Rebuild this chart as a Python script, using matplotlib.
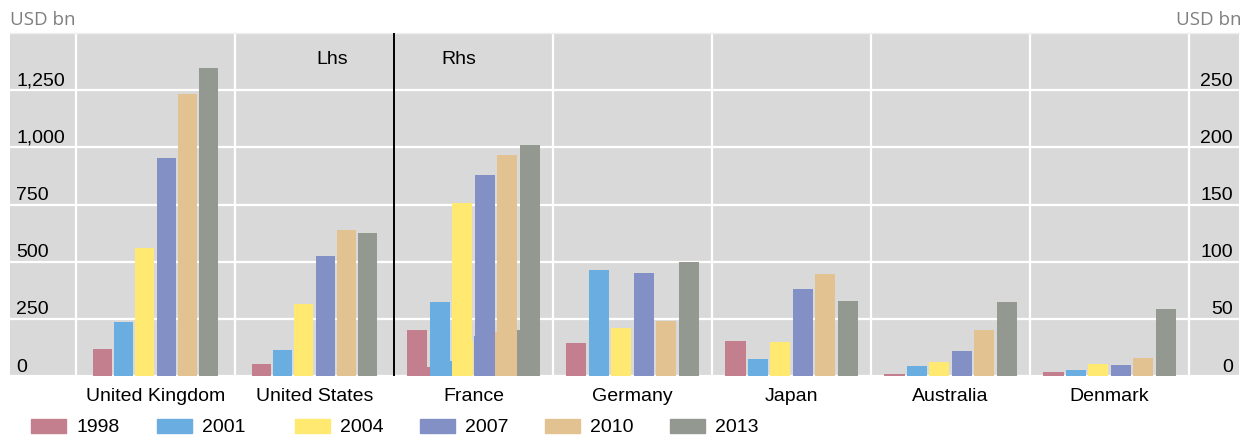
import matplotlib
matplotlib.use("Agg")
import matplotlib.pyplot as plt
import matplotlib.transforms as mtransforms
from matplotlib.patches import Rectangle
import numpy as np

# ---------------- data ----------------
countries = ["United Kingdom", "United States", "France", "Germany",
             "Japan", "Australia", "Denmark"]
years = ["1998", "2001", "2004", "2007", "2010", "2013"]
n_lhs = 2  # first two countries on the left-hand scale

v1998 = [118, 52, 40, 29, 31, 2, 3.5]
v2001 = [236, 113, 65, 93, 15, 9, 5]
v2004 = [558, 314, 151, 42, 30, 12, 10.5]
v2007 = [955, 523, 176, 90, 76, 22, 9.5]
v2010 = [1235, 637, 193, 48, 89, 40, 16]
v2013 = [1348, 624, 202, 100, 66, 65, 58.5]
series = [v1998, v2001, v2004, v2007, v2010, v2013]

lhs_ticks = [0, 250, 500, 750, 1000, 1250]
lhs_labels = ["0", "250", "500", "750", "1,000", "1,250"]
rhs_ticks = [0, 50, 100, 150, 200, 250]
rhs_labels = ["0", "50", "100", "150", "200", "250"]

colors = ["#C47F8E", "#6AADE0", "#FFE970", "#8390C6", "#E2C291", "#939890"]

# ---------------- figure ----------------
W, H = 1257, 442
fig = plt.figure(figsize=(W / 100, H / 100), dpi=100)
plt.rcParams['font.family'] = ['Liberation Sans', 'DejaVu Sans']

def fx(x):
    return x / W

def fy(y):
    return 1 - y / H

left, right, top, bottom = 10, 1239, 33, 376
ax = fig.add_axes([fx(left), fy(bottom), (right - left) / W, (bottom - top) / H])
ax.set_facecolor("#D9D9D9")
ax.set_xlim(-0.915, 6.814)
ax.set_ylim(0, 1500)
ax2 = ax.twinx()
ax2.set_ylim(0, 300)

for a in (ax, ax2):
    for s in a.spines.values():
        s.set_visible(False)
    a.tick_params(left=False, right=False, labelleft=False, labelright=False,
                  bottom=False)

ax.spines['top'].set_visible(True)
ax.spines['top'].set_color("#EEEEEE")
ax.spines['top'].set_linewidth(1)

ax.set_yticks(lhs_ticks)
ax2.set_yticks([])
ax.grid(axis='y', color='white', lw=1.6)
ax.set_axisbelow(True)

x = np.arange(len(countries))
for b in np.arange(-0.5, len(countries) + 0.5, 1.0):
    if abs(b - 1.5) < 1e-9:
        continue
    ax.axvline(b, color='white', lw=1.6, zorder=0.5)

# bars
lhs_step, lhs_w = 0.1333, 0.12
rhs_step, rhs_w = 0.141, 0.126
offs_idx = np.arange(len(years)) - (len(years) - 1) / 2
xl = x[:n_lhs]
xr = x[n_lhs:]
for k, (vals, c) in enumerate(zip(series, colors)):
    ax.bar(xl + offs_idx[k] * lhs_step, vals[:n_lhs], width=lhs_w, color=c,
           zorder=2, label=years[k])
    # France values also appear on the left-hand scale behind the Rhs bars
    ax.bar(xr[:1] + offs_idx[k] * rhs_step * 0.95, vals[n_lhs:n_lhs + 1],
           width=rhs_w, color=c, zorder=2)
    ax2.bar(xr + offs_idx[k] * rhs_step, vals[n_lhs:], width=rhs_w, color=c,
            zorder=2)

ax2.axvline(1.5, color='black', lw=1.4, zorder=3)

# category labels
ax.tick_params(axis='x', length=0, pad=8.5, labelsize=14, labelbottom=True)
ax.set_xticks(x)
ax.set_xticklabels(countries)

# y tick labels drawn inside the plot, sitting above the gridlines
tl = mtransforms.offset_copy(
    mtransforms.blended_transform_factory(ax.transAxes, ax.transData),
    fig=fig, x=0, y=4.5, units='dots')
for v, s in zip(lhs_ticks, lhs_labels):
    ax.text((16 - left) / (right - left), v, s, transform=tl, ha='left',
            va='baseline', fontsize=14, color='black', zorder=5)
tr = mtransforms.offset_copy(
    mtransforms.blended_transform_factory(ax2.transAxes, ax2.transData),
    fig=fig, x=0, y=4.5, units='dots')
for v, s in zip(rhs_ticks, rhs_labels):
    ax2.text((1233 - left) / (right - left), v, s, transform=tr, ha='right',
             va='baseline', fontsize=14, color='black', zorder=5)

# Lhs / Rhs annotations
bt = mtransforms.blended_transform_factory(ax.transData, ax.transAxes)
ax2.text(1.113, (bottom - 60) / (bottom - top), "Lhs", transform=bt,
         ha='center', va='center', fontsize=14)
ax2.text(1.906, (bottom - 60) / (bottom - top), "Rhs", transform=bt,
         ha='center', va='center', fontsize=14)

# unit labels
fig.text(fx(10), fy(20), "USD bn", color="#7F7F7F", fontsize=13.5,
         ha='left', va='center', family=['Open Sans', 'DejaVu Sans'])
fig.text(fx(1242), fy(20), "USD bn", color="#7F7F7F", fontsize=13.5,
         ha='right', va='center', family=['Open Sans', 'DejaVu Sans'])

# legend
leg_x = [31, 157, 295, 420, 545, 670]
for lx, yr, c in zip(leg_x, years, colors):
    fig.add_artist(Rectangle((fx(lx), fy(433)), 35 / W, 14 / H, color=c,
                             transform=fig.transFigure))
    fig.text(fx(lx + 45), fy(426), yr, fontsize=14, ha='left',
             va='center_baseline')

fig.savefig("out.png", dpi=100)
